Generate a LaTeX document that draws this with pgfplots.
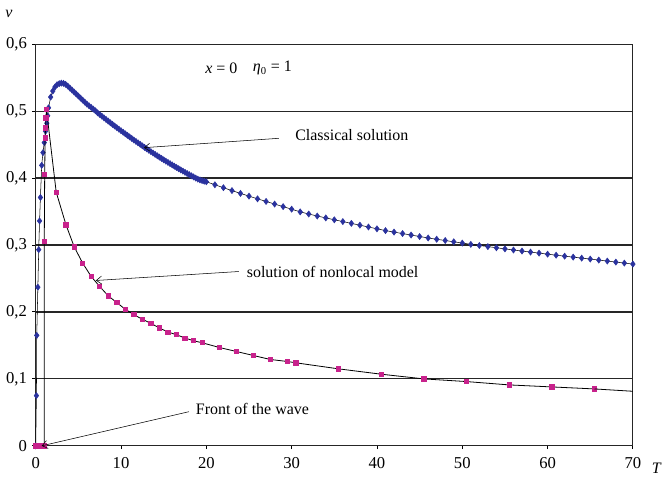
\documentclass[border=0pt]{standalone}
\usepackage{fontspec}
\setmainfont{Liberation Serif}
\usepackage{pgfplots}
\pgfplotsset{compat=1.18}
\usetikzlibrary{arrows.meta}

\definecolor{classblue}{RGB}{42,50,158}
\definecolor{nonlocmag}{RGB}{200,34,140}

\begin{document}
\fontsize{12}{14}\selectfont
\begin{tikzpicture}
\begin{axis}[
    scale only axis,
    width=449pt, height=302pt,
    xmin=0, xmax=70, ymin=0, ymax=0.6,
    xtick={0,10,20,30,40,50,60,70},
    ytick={0,0.1,0.2,0.3,0.4,0.5,0.6},
    /pgf/number format/assume math mode=true,
    yticklabel style={/pgf/number format/.cd, fixed, precision=1, use comma},
    xticklabel style={yshift=-2pt},
    tick align=outside, tick pos=left,
    major tick length=2.5pt,
    tick style={black, line width=0.7pt},
    ymajorgrids,
    grid style={black!85, line width=0.9pt},
    axis line style={black!85, line width=0.9pt},
    clip mode=individual,
    ticklabel style={font=\fontsize{12.5}{14}\selectfont},
]

% classical solution
\addplot[black, line width=0.4pt, mark=diamond*, mark size=2.3pt,
    mark options={draw=classblue, fill=classblue}] coordinates {
    (0,0) (0.08,0.075) (0.12,0.165) (0.25,0.237) (0.35,0.293) (0.45,0.336)
    (0.55,0.371) (0.7,0.419) (0.85,0.438) (1.0,0.453) (1.15,0.47) (1.3,0.482)
    (1.4,0.493) (1.5,0.505) (1.75,0.521) (2.0,0.530) (2.25,0.536) (2.5,0.5395)
    (2.75,0.541) (3.0,0.5418) (3.25,0.5415) (3.5,0.540) (3.75,0.5375) (4.0,0.5345)
    (4.25,0.5315) (4.5,0.5285) (4.75,0.5255) (5.0,0.5225) (5.25,0.5195) (5.5,0.5165)
    (5.75,0.5135) (6.0,0.5105) (6.25,0.508) (6.5,0.5055) (6.75,0.503) (7.0,0.5005)
    (7.25,0.4975) (7.5,0.495) (7.75,0.4925) (8.0,0.490) (8.25,0.4875) (8.5,0.485)
    (8.75,0.4826) (9.0,0.4802) (9.25,0.4778) (9.5,0.4754) (9.75,0.473) (10.0,0.4707)
    (10.25,0.4684) (10.5,0.4661) (10.75,0.4638) (11.0,0.4615) (11.25,0.4592) (11.5,0.4569)
    (11.75,0.4547) (12.0,0.4525) (12.25,0.4503) (12.5,0.4481) (12.75,0.4459) (13.0,0.4437)
    (13.25,0.4416) (13.5,0.4395) (13.75,0.4374) (14.0,0.4353) (14.25,0.4333) (14.5,0.4313)
    (14.75,0.4293) (15.0,0.4273) (15.25,0.4253) (15.5,0.4234) (15.75,0.4215) (16.0,0.4196)
    (16.25,0.4177) (16.5,0.4158) (16.75,0.414) (17.0,0.4122) (17.25,0.4104) (17.5,0.4086)
    (17.75,0.4068) (18.0,0.4051) (18.25,0.4034) (18.5,0.4017) (18.75,0.4) (19.0,0.3984)
    (19.25,0.3972) (19.5,0.3962) (19.75,0.3953) (20,0.3945)
    (21,0.3900) (22,0.3856) (23,0.3813) (24,0.3771) (25,0.3730) (26,0.3690)
    (27,0.3651) (28,0.3612) (29,0.3573) (30,0.3535) (31,0.3495) (32,0.3463)
    (33,0.3433) (34,0.3405) (35,0.3377) (36,0.3350) (37,0.3323) (38,0.3296)
    (39,0.3269) (40,0.3242) (41,0.3215) (42,0.3193) (43,0.3171) (44,0.3149)
    (45,0.3127) (46,0.3105) (47,0.3086) (48,0.3067) (49,0.3048) (50,0.3029)
    (51,0.3010) (52,0.2993) (53,0.2976) (54,0.2959) (55,0.2942) (56,0.2925)
    (57,0.2910) (58,0.2894) (59,0.2879) (60,0.2863) (61,0.2848) (62,0.2833)
    (63,0.2819) (64,0.2804) (65,0.2790) (66,0.2775) (67,0.2760) (68,0.2745)
    (69,0.2730) (70,0.2715)
};

% solution of nonlocal model
\addplot[black, line width=0.6pt, mark=square*, mark size=1.6pt,
    mark options={draw=nonlocmag, fill=nonlocmag}] coordinates {
    (0,0) (0.25,0) (0.5,0) (0.75,0) (1.0,0) (1.0,0.305) (1.05,0.405)
    (1.1,0.46) (1.15,0.475) (1.2,0.49) (1.25,0.503) (2.4,0.379) (3.55,0.330)
    (4.52,0.297) (5.5,0.273) (6.5,0.253) (7.5,0.238) (8.5,0.224) (9.5,0.214)
    (10.5,0.204) (11.5,0.196) (12.5,0.189) (13.5,0.183) (14.5,0.176) (15.5,0.170)
    (16.5,0.166) (17.5,0.161) (18.5,0.157) (19.5,0.154) (21.5,0.147) (23.5,0.141)
    (25.5,0.135) (27.5,0.129) (29.5,0.126) (30.5,0.124) (35.5,0.115) (40.5,0.107)
    (45.5,0.100) (50.5,0.096) (55.5,0.091) (60.5,0.088) (65.5,0.085)
};
\addplot[black, line width=0.6pt, mark=none] coordinates {(65.5,0.085) (70,0.0815)};

% annotations
\node[anchor=east] at (axis cs:24.3,0.564) {\textit{x} = 0};
\node[anchor=west] at (axis cs:24.8,0.564) {\textit{η}\textsubscript{0} = 1};
\node at (axis cs:37.05,0.464) {Classical solution};
\node at (axis cs:34.8,0.259) {solution of nonlocal model};
\node at (axis cs:25.4,0.0546) {Front of the wave};
\draw[-{Straight Barb[length=4pt,width=6pt]}, line width=0.4pt]
    (axis cs:28.5,0.4594) -- (axis cs:12.7,0.4454);
\draw[-{Straight Barb[length=4pt,width=6pt]}, line width=0.4pt]
    (axis cs:23.8,0.2604) -- (axis cs:7.05,0.247);
\draw[-{Straight Barb[length=4pt,width=6pt]}, line width=0.4pt]
    (axis cs:17.96,0.051) -- (axis cs:0.7,0.0);
\node at (rel axis cs:-0.045,1.075) {\textit{v}};
\node at (rel axis cs:1.04,-0.055) {\textit{T}};
\path (rel axis cs:0,1.11) -- (rel axis cs:0,-0.09);
\end{axis}
\end{tikzpicture}
\end{document}
